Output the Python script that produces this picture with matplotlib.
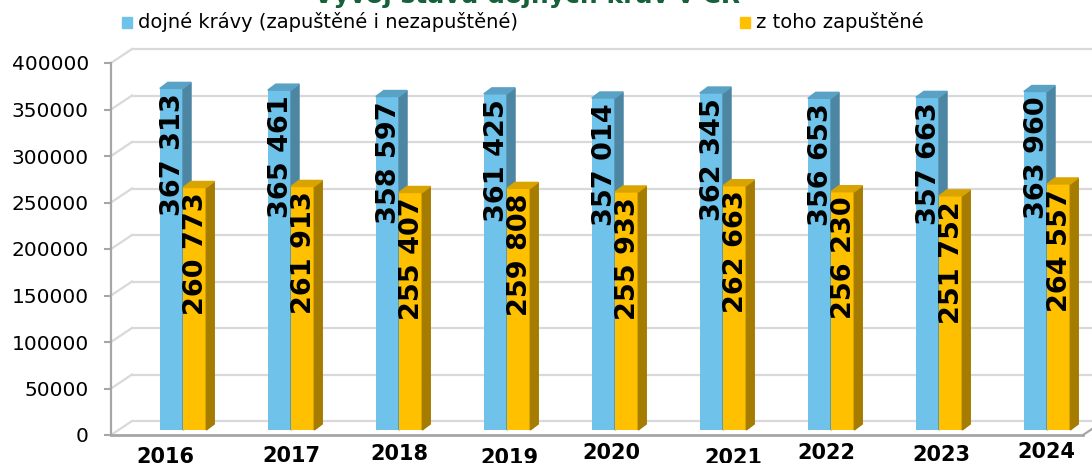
import matplotlib.pyplot as plt
from matplotlib.patches import Polygon, Rectangle
from matplotlib.transforms import ScaledTranslation

years = ['2016', '2017', '2018', '2019', '2020', '2021', '2022', '2023', '2024']
dojne = [367313, 365461, 358597, 361425, 357014, 362345, 356653, 357663, 363960]
zapustene = [260773, 261913, 255407, 259808, 255933, 262663, 256230, 251752, 264557]
legend_labels = ['dojné krávy (zapuštěné i nezapuštěné)', 'z toho zapuštěné']
title = 'Vývoj stavu dojných krav v ČR'


def fmt(v):
    return f'{v:,}'.replace(',', ' ')


W, H = 1092, 463
fig = plt.figure(figsize=(W / 100, H / 100), dpi=100)
ax = fig.add_axes([111 / W, (H - 435) / H, (1083 - 111) / W, 372 / H])
x0, x1 = -0.667, 8.333
ax.set_xlim(x0, x1)
ax.set_ylim(0, 400000)
px_x = (x1 - x0) / 972
px_y = 400000 / 372

grid_c = '#d9d9d9'
axis_c = '#a6a6a6'

# zadni stena + diagonaly
bx, by = 21 * px_x, 14 * px_y
for v in range(0, 400001, 50000):
    ax.plot([x0, x0 + bx], [v, v + by], color=grid_c, lw=1.6, clip_on=False, zorder=1)
    ax.plot([x0 + bx, x1 + 40 * px_x], [v + by, v + by], color=grid_c, lw=1.6,
            clip_on=False, zorder=1)
ax.plot([x1, x1 + bx], [0, by], color=axis_c, lw=1.6, clip_on=False, zorder=1)

# sloupce (mirne posunute dozadu)
bar_tr = ax.transData + ScaledTranslation(0, 0.05, fig.dpi_scale_trans)
w = 0.215
dx, dy = 8 * px_x, 6 * px_y
series = [
    (dojne, -w, '#6FC3EA', '#4C86A2', '#5AA2C5', 3),
    (zapustene, 0, '#FFC000', '#A67C00', '#D9A400', 4),
]
for vals, shift, c_front, c_side, c_top, z in series:
    for i, v in enumerate(vals):
        left = i + shift
        right = left + w
        ax.bar(left, v, width=w, align='edge', color=c_front, transform=bar_tr, zorder=z)
        ax.add_patch(Polygon([(right, 0), (right, v), (right + dx, v + dy), (right + dx, dy)],
                             closed=True, color=c_side, transform=bar_tr, zorder=z))
        ax.add_patch(Polygon([(left, v), (right, v), (right + dx, v + dy), (left + dx, v + dy)],
                             closed=True, color=c_top, transform=bar_tr, zorder=z))
        ax.text(left + w / 2 + 1.5 * px_x, v - 5 * px_y, fmt(v), rotation=90,
                ha='center', va='top', fontsize=19.5, fontweight='bold', color='black',
                transform=bar_tr, zorder=6)

# osy
for s in ['top', 'right']:
    ax.spines[s].set_visible(False)
ax.spines['left'].set_color(axis_c)
ax.spines['left'].set_linewidth(1.6)
ax.spines['bottom'].set_color(axis_c)
ax.spines['bottom'].set_linewidth(2)
ax.set_yticks(range(0, 400001, 50000))
ax.set_yticklabels([str(t) for t in range(0, 400001, 50000)])
ax.tick_params(axis='y', length=5, width=1.5, color=axis_c, labelsize=14.5, pad=11)
ax.set_xticks([])

# popisky let (mirne rozhazene jako v originale)
x_off = [-18, 0, 0, 2, -4, 10, -5, 2, -1]
y_top = [447, 446, 444, 448, 443, 448, 443, 445, 442]
for i, y in enumerate(years):
    ax.text(i + x_off[i] * px_x, -(y_top[i] - 435) * px_y, y, ha='center', va='top',
            fontsize=15, fontweight='bold', clip_on=False)

# legenda
fig.patches.append(Rectangle((122 / W, 1 - 28 / H), 10 / W, 11 / H,
                             transform=fig.transFigure, color='#6FC3EA'))
fig.text(138 / W, 1 - 22 / H, legend_labels[0], va='center', fontsize=14)
fig.patches.append(Rectangle((740 / W, 1 - 28 / H), 10 / W, 11 / H,
                             transform=fig.transFigure, color='#FFC000'))
fig.text(756 / W, 1 - 22 / H, legend_labels[1], va='center', fontsize=14)

# nadpis (orezany nahore)
fig.text(527 / W, 1 - 3 / H, title, ha='center', va='baseline', fontsize=18,
         fontweight='bold', color='#16603A')

fig.savefig('out.png', dpi=100)
